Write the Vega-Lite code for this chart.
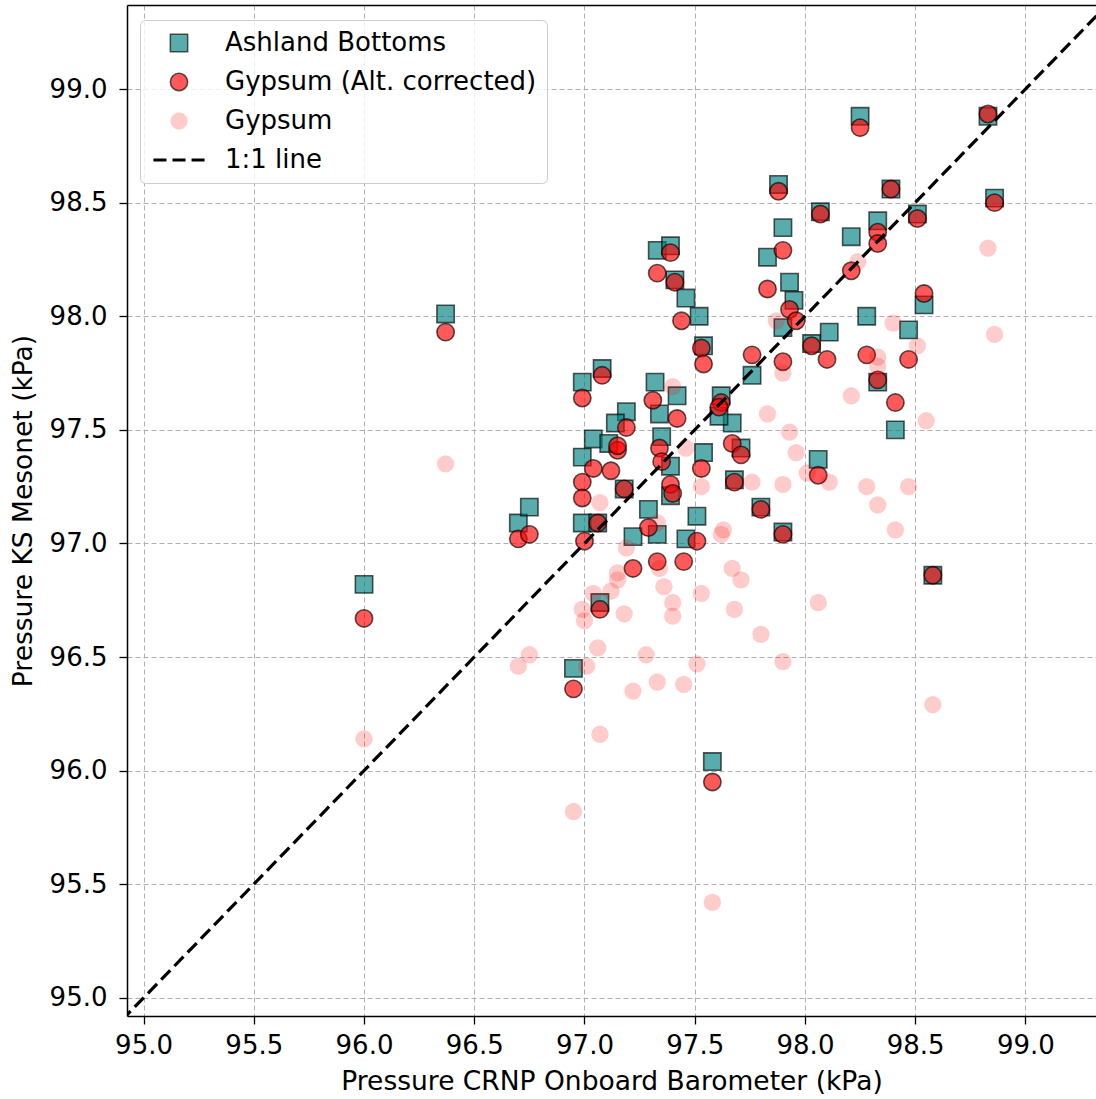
{
  "$schema": "https://vega.github.io/schema/vega-lite/v6.json",
  "width": 969,
  "height": 1011,
  "autosize": {"type": "none"},
  "padding": {"left": 127, "top": 5, "right": 0, "bottom": 83},
  "background": "white",
  "config": {
    "font": "DejaVu Sans",
    "view": {"stroke": null},
    "axis": {
      "labelFont": "DejaVu Sans",
      "labelFontSize": 26,
      "labelColor": "#000000",
      "titleFont": "DejaVu Sans",
      "titleFontSize": 26.5,
      "titleFontWeight": "normal",
      "titleColor": "#000000",
      "tickColor": "#000000",
      "tickWidth": 1.3,
      "tickSize": 8,
      "domainColor": "#000000",
      "domainWidth": 1.5,
      "gridColor": "#b0b0b0",
      "gridDash": [5, 3],
      "gridWidth": 1
    }
  },
  "datasets": {
    "obs": [
      {"series": "Ashland Bottoms", "crnp": 96.00, "mesonet": 96.82},
      {"series": "Ashland Bottoms", "crnp": 96.37, "mesonet": 98.01},
      {"series": "Ashland Bottoms", "crnp": 96.70, "mesonet": 97.09},
      {"series": "Ashland Bottoms", "crnp": 96.75, "mesonet": 97.16},
      {"series": "Ashland Bottoms", "crnp": 96.95, "mesonet": 96.45},
      {"series": "Ashland Bottoms", "crnp": 96.99, "mesonet": 97.71},
      {"series": "Ashland Bottoms", "crnp": 96.99, "mesonet": 97.38},
      {"series": "Ashland Bottoms", "crnp": 96.99, "mesonet": 97.09},
      {"series": "Ashland Bottoms", "crnp": 97.07, "mesonet": 96.74},
      {"series": "Ashland Bottoms", "crnp": 97.06, "mesonet": 97.09},
      {"series": "Ashland Bottoms", "crnp": 97.04, "mesonet": 97.46},
      {"series": "Ashland Bottoms", "crnp": 97.08, "mesonet": 97.77},
      {"series": "Ashland Bottoms", "crnp": 97.19, "mesonet": 97.58},
      {"series": "Ashland Bottoms", "crnp": 97.14, "mesonet": 97.53},
      {"series": "Ashland Bottoms", "crnp": 97.11, "mesonet": 97.44},
      {"series": "Ashland Bottoms", "crnp": 97.18, "mesonet": 97.24},
      {"series": "Ashland Bottoms", "crnp": 97.29, "mesonet": 97.15},
      {"series": "Ashland Bottoms", "crnp": 97.22, "mesonet": 97.03},
      {"series": "Ashland Bottoms", "crnp": 97.33, "mesonet": 97.04},
      {"series": "Ashland Bottoms", "crnp": 97.46, "mesonet": 97.02},
      {"series": "Ashland Bottoms", "crnp": 97.51, "mesonet": 97.12},
      {"series": "Ashland Bottoms", "crnp": 97.39, "mesonet": 97.34},
      {"series": "Ashland Bottoms", "crnp": 97.39, "mesonet": 97.21},
      {"series": "Ashland Bottoms", "crnp": 97.35, "mesonet": 97.47},
      {"series": "Ashland Bottoms", "crnp": 97.32, "mesonet": 97.71},
      {"series": "Ashland Bottoms", "crnp": 97.34, "mesonet": 97.57},
      {"series": "Ashland Bottoms", "crnp": 97.42, "mesonet": 97.65},
      {"series": "Ashland Bottoms", "crnp": 97.54, "mesonet": 97.40},
      {"series": "Ashland Bottoms", "crnp": 97.68, "mesonet": 97.28},
      {"series": "Ashland Bottoms", "crnp": 97.80, "mesonet": 97.16},
      {"series": "Ashland Bottoms", "crnp": 97.90, "mesonet": 97.05},
      {"series": "Ashland Bottoms", "crnp": 97.67, "mesonet": 97.53},
      {"series": "Ashland Bottoms", "crnp": 97.71, "mesonet": 97.42},
      {"series": "Ashland Bottoms", "crnp": 97.62, "mesonet": 97.65},
      {"series": "Ashland Bottoms", "crnp": 97.61, "mesonet": 97.56},
      {"series": "Ashland Bottoms", "crnp": 97.58, "mesonet": 96.04},
      {"series": "Ashland Bottoms", "crnp": 97.33, "mesonet": 98.29},
      {"series": "Ashland Bottoms", "crnp": 97.39, "mesonet": 98.31},
      {"series": "Ashland Bottoms", "crnp": 97.41, "mesonet": 98.16},
      {"series": "Ashland Bottoms", "crnp": 97.46, "mesonet": 98.08},
      {"series": "Ashland Bottoms", "crnp": 97.52, "mesonet": 98.00},
      {"series": "Ashland Bottoms", "crnp": 97.54, "mesonet": 97.87},
      {"series": "Ashland Bottoms", "crnp": 97.76, "mesonet": 97.74},
      {"series": "Ashland Bottoms", "crnp": 97.90, "mesonet": 98.39},
      {"series": "Ashland Bottoms", "crnp": 97.83, "mesonet": 98.26},
      {"series": "Ashland Bottoms", "crnp": 97.93, "mesonet": 98.15},
      {"series": "Ashland Bottoms", "crnp": 97.95, "mesonet": 98.07},
      {"series": "Ashland Bottoms", "crnp": 97.90, "mesonet": 97.95},
      {"series": "Ashland Bottoms", "crnp": 98.25, "mesonet": 98.88},
      {"series": "Ashland Bottoms", "crnp": 97.88, "mesonet": 98.58},
      {"series": "Ashland Bottoms", "crnp": 98.39, "mesonet": 98.56},
      {"series": "Ashland Bottoms", "crnp": 98.83, "mesonet": 98.88},
      {"series": "Ashland Bottoms", "crnp": 98.86, "mesonet": 98.52},
      {"series": "Ashland Bottoms", "crnp": 98.07, "mesonet": 98.46},
      {"series": "Ashland Bottoms", "crnp": 98.51, "mesonet": 98.45},
      {"series": "Ashland Bottoms", "crnp": 98.33, "mesonet": 98.42},
      {"series": "Ashland Bottoms", "crnp": 98.21, "mesonet": 98.35},
      {"series": "Ashland Bottoms", "crnp": 98.28, "mesonet": 98.00},
      {"series": "Ashland Bottoms", "crnp": 98.54, "mesonet": 98.05},
      {"series": "Ashland Bottoms", "crnp": 98.11, "mesonet": 97.93},
      {"series": "Ashland Bottoms", "crnp": 98.47, "mesonet": 97.94},
      {"series": "Ashland Bottoms", "crnp": 98.03, "mesonet": 97.88},
      {"series": "Ashland Bottoms", "crnp": 98.33, "mesonet": 97.71},
      {"series": "Ashland Bottoms", "crnp": 98.41, "mesonet": 97.50},
      {"series": "Ashland Bottoms", "crnp": 98.06, "mesonet": 97.37},
      {"series": "Ashland Bottoms", "crnp": 98.58, "mesonet": 96.86},

      {"series": "Gypsum (Alt. corrected)", "crnp": 96.00, "mesonet": 96.67},
      {"series": "Gypsum (Alt. corrected)", "crnp": 96.37, "mesonet": 97.93},
      {"series": "Gypsum (Alt. corrected)", "crnp": 96.70, "mesonet": 97.02},
      {"series": "Gypsum (Alt. corrected)", "crnp": 96.75, "mesonet": 97.04},
      {"series": "Gypsum (Alt. corrected)", "crnp": 96.95, "mesonet": 96.36},
      {"series": "Gypsum (Alt. corrected)", "crnp": 96.99, "mesonet": 97.64},
      {"series": "Gypsum (Alt. corrected)", "crnp": 96.99, "mesonet": 97.27},
      {"series": "Gypsum (Alt. corrected)", "crnp": 96.99, "mesonet": 97.20},
      {"series": "Gypsum (Alt. corrected)", "crnp": 97.00, "mesonet": 97.01},
      {"series": "Gypsum (Alt. corrected)", "crnp": 97.07, "mesonet": 96.71},
      {"series": "Gypsum (Alt. corrected)", "crnp": 97.06, "mesonet": 97.09},
      {"series": "Gypsum (Alt. corrected)", "crnp": 97.04, "mesonet": 97.33},
      {"series": "Gypsum (Alt. corrected)", "crnp": 97.08, "mesonet": 97.74},
      {"series": "Gypsum (Alt. corrected)", "crnp": 97.19, "mesonet": 97.51},
      {"series": "Gypsum (Alt. corrected)", "crnp": 97.15, "mesonet": 97.41},
      {"series": "Gypsum (Alt. corrected)", "crnp": 97.15, "mesonet": 97.43},
      {"series": "Gypsum (Alt. corrected)", "crnp": 97.12, "mesonet": 97.32},
      {"series": "Gypsum (Alt. corrected)", "crnp": 97.18, "mesonet": 97.24},
      {"series": "Gypsum (Alt. corrected)", "crnp": 97.29, "mesonet": 97.07},
      {"series": "Gypsum (Alt. corrected)", "crnp": 97.22, "mesonet": 96.89},
      {"series": "Gypsum (Alt. corrected)", "crnp": 97.33, "mesonet": 96.92},
      {"series": "Gypsum (Alt. corrected)", "crnp": 97.45, "mesonet": 96.92},
      {"series": "Gypsum (Alt. corrected)", "crnp": 97.51, "mesonet": 97.01},
      {"series": "Gypsum (Alt. corrected)", "crnp": 97.39, "mesonet": 97.26},
      {"series": "Gypsum (Alt. corrected)", "crnp": 97.40, "mesonet": 97.22},
      {"series": "Gypsum (Alt. corrected)", "crnp": 97.34, "mesonet": 97.42},
      {"series": "Gypsum (Alt. corrected)", "crnp": 97.35, "mesonet": 97.36},
      {"series": "Gypsum (Alt. corrected)", "crnp": 97.31, "mesonet": 97.63},
      {"series": "Gypsum (Alt. corrected)", "crnp": 97.42, "mesonet": 97.55},
      {"series": "Gypsum (Alt. corrected)", "crnp": 97.53, "mesonet": 97.33},
      {"series": "Gypsum (Alt. corrected)", "crnp": 97.68, "mesonet": 97.27},
      {"series": "Gypsum (Alt. corrected)", "crnp": 97.80, "mesonet": 97.15},
      {"series": "Gypsum (Alt. corrected)", "crnp": 97.90, "mesonet": 97.04},
      {"series": "Gypsum (Alt. corrected)", "crnp": 97.67, "mesonet": 97.44},
      {"series": "Gypsum (Alt. corrected)", "crnp": 97.71, "mesonet": 97.39},
      {"series": "Gypsum (Alt. corrected)", "crnp": 97.62, "mesonet": 97.62},
      {"series": "Gypsum (Alt. corrected)", "crnp": 97.61, "mesonet": 97.60},
      {"series": "Gypsum (Alt. corrected)", "crnp": 97.58, "mesonet": 95.95},
      {"series": "Gypsum (Alt. corrected)", "crnp": 97.33, "mesonet": 98.19},
      {"series": "Gypsum (Alt. corrected)", "crnp": 97.39, "mesonet": 98.28},
      {"series": "Gypsum (Alt. corrected)", "crnp": 97.41, "mesonet": 98.15},
      {"series": "Gypsum (Alt. corrected)", "crnp": 97.44, "mesonet": 97.98},
      {"series": "Gypsum (Alt. corrected)", "crnp": 97.53, "mesonet": 97.86},
      {"series": "Gypsum (Alt. corrected)", "crnp": 97.54, "mesonet": 97.79},
      {"series": "Gypsum (Alt. corrected)", "crnp": 97.76, "mesonet": 97.83},
      {"series": "Gypsum (Alt. corrected)", "crnp": 97.90, "mesonet": 97.80},
      {"series": "Gypsum (Alt. corrected)", "crnp": 97.90, "mesonet": 98.29},
      {"series": "Gypsum (Alt. corrected)", "crnp": 97.83, "mesonet": 98.12},
      {"series": "Gypsum (Alt. corrected)", "crnp": 97.93, "mesonet": 98.03},
      {"series": "Gypsum (Alt. corrected)", "crnp": 97.96, "mesonet": 97.98},
      {"series": "Gypsum (Alt. corrected)", "crnp": 98.25, "mesonet": 98.83},
      {"series": "Gypsum (Alt. corrected)", "crnp": 97.88, "mesonet": 98.55},
      {"series": "Gypsum (Alt. corrected)", "crnp": 98.39, "mesonet": 98.56},
      {"series": "Gypsum (Alt. corrected)", "crnp": 98.83, "mesonet": 98.89},
      {"series": "Gypsum (Alt. corrected)", "crnp": 98.86, "mesonet": 98.50},
      {"series": "Gypsum (Alt. corrected)", "crnp": 98.07, "mesonet": 98.45},
      {"series": "Gypsum (Alt. corrected)", "crnp": 98.51, "mesonet": 98.43},
      {"series": "Gypsum (Alt. corrected)", "crnp": 98.33, "mesonet": 98.37},
      {"series": "Gypsum (Alt. corrected)", "crnp": 98.33, "mesonet": 98.32},
      {"series": "Gypsum (Alt. corrected)", "crnp": 98.21, "mesonet": 98.20},
      {"series": "Gypsum (Alt. corrected)", "crnp": 98.54, "mesonet": 98.10},
      {"series": "Gypsum (Alt. corrected)", "crnp": 98.03, "mesonet": 97.87},
      {"series": "Gypsum (Alt. corrected)", "crnp": 98.10, "mesonet": 97.81},
      {"series": "Gypsum (Alt. corrected)", "crnp": 98.28, "mesonet": 97.83},
      {"series": "Gypsum (Alt. corrected)", "crnp": 98.47, "mesonet": 97.81},
      {"series": "Gypsum (Alt. corrected)", "crnp": 98.33, "mesonet": 97.72},
      {"series": "Gypsum (Alt. corrected)", "crnp": 98.41, "mesonet": 97.62},
      {"series": "Gypsum (Alt. corrected)", "crnp": 98.06, "mesonet": 97.30},
      {"series": "Gypsum (Alt. corrected)", "crnp": 98.58, "mesonet": 96.86},

      {"series": "Gypsum", "crnp": 96.00, "mesonet": 96.14},
      {"series": "Gypsum", "crnp": 96.37, "mesonet": 97.35},
      {"series": "Gypsum", "crnp": 96.70, "mesonet": 96.46},
      {"series": "Gypsum", "crnp": 96.75, "mesonet": 96.51},
      {"series": "Gypsum", "crnp": 96.95, "mesonet": 95.82},
      {"series": "Gypsum", "crnp": 97.58, "mesonet": 95.42},
      {"series": "Gypsum", "crnp": 98.83, "mesonet": 98.30},
      {"series": "Gypsum", "crnp": 98.86, "mesonet": 97.92},
      {"series": "Gypsum", "crnp": 98.24, "mesonet": 98.24},
      {"series": "Gypsum", "crnp": 98.40, "mesonet": 97.97},
      {"series": "Gypsum", "crnp": 98.51, "mesonet": 97.87},
      {"series": "Gypsum", "crnp": 98.33, "mesonet": 97.82},
      {"series": "Gypsum", "crnp": 98.33, "mesonet": 97.78},
      {"series": "Gypsum", "crnp": 98.21, "mesonet": 97.65},
      {"series": "Gypsum", "crnp": 98.55, "mesonet": 97.54},
      {"series": "Gypsum", "crnp": 97.83, "mesonet": 97.57},
      {"series": "Gypsum", "crnp": 97.93, "mesonet": 97.49},
      {"series": "Gypsum", "crnp": 97.96, "mesonet": 97.40},
      {"series": "Gypsum", "crnp": 97.90, "mesonet": 97.75},
      {"series": "Gypsum", "crnp": 97.87, "mesonet": 97.98},
      {"series": "Gypsum", "crnp": 98.11, "mesonet": 97.27},
      {"series": "Gypsum", "crnp": 97.90, "mesonet": 97.26},
      {"series": "Gypsum", "crnp": 97.76, "mesonet": 97.27},
      {"series": "Gypsum", "crnp": 98.28, "mesonet": 97.25},
      {"series": "Gypsum", "crnp": 98.47, "mesonet": 97.25},
      {"series": "Gypsum", "crnp": 98.33, "mesonet": 97.17},
      {"series": "Gypsum", "crnp": 98.41, "mesonet": 97.06},
      {"series": "Gypsum", "crnp": 98.01, "mesonet": 97.31},
      {"series": "Gypsum", "crnp": 98.58, "mesonet": 96.29},
      {"series": "Gypsum", "crnp": 98.06, "mesonet": 96.74},
      {"series": "Gypsum", "crnp": 97.80, "mesonet": 96.60},
      {"series": "Gypsum", "crnp": 97.90, "mesonet": 96.48},
      {"series": "Gypsum", "crnp": 97.63, "mesonet": 97.06},
      {"series": "Gypsum", "crnp": 97.62, "mesonet": 97.04},
      {"series": "Gypsum", "crnp": 97.19, "mesonet": 96.98},
      {"series": "Gypsum", "crnp": 97.15, "mesonet": 96.87},
      {"series": "Gypsum", "crnp": 97.15, "mesonet": 96.84},
      {"series": "Gypsum", "crnp": 97.12, "mesonet": 96.79},
      {"series": "Gypsum", "crnp": 97.04, "mesonet": 96.78},
      {"series": "Gypsum", "crnp": 97.36, "mesonet": 96.81},
      {"series": "Gypsum", "crnp": 97.34, "mesonet": 96.89},
      {"series": "Gypsum", "crnp": 97.53, "mesonet": 96.78},
      {"series": "Gypsum", "crnp": 97.67, "mesonet": 96.89},
      {"series": "Gypsum", "crnp": 97.71, "mesonet": 96.84},
      {"series": "Gypsum", "crnp": 96.99, "mesonet": 96.71},
      {"series": "Gypsum", "crnp": 97.00, "mesonet": 96.66},
      {"series": "Gypsum", "crnp": 97.18, "mesonet": 96.69},
      {"series": "Gypsum", "crnp": 97.40, "mesonet": 96.74},
      {"series": "Gypsum", "crnp": 97.40, "mesonet": 96.68},
      {"series": "Gypsum", "crnp": 97.68, "mesonet": 96.71},
      {"series": "Gypsum", "crnp": 97.06, "mesonet": 96.54},
      {"series": "Gypsum", "crnp": 97.28, "mesonet": 96.51},
      {"series": "Gypsum", "crnp": 97.01, "mesonet": 96.46},
      {"series": "Gypsum", "crnp": 97.51, "mesonet": 96.47},
      {"series": "Gypsum", "crnp": 97.33, "mesonet": 96.39},
      {"series": "Gypsum", "crnp": 97.45, "mesonet": 96.38},
      {"series": "Gypsum", "crnp": 97.22, "mesonet": 96.35},
      {"series": "Gypsum", "crnp": 97.07, "mesonet": 96.16},
      {"series": "Gypsum", "crnp": 97.07, "mesonet": 97.18},
      {"series": "Gypsum", "crnp": 97.46, "mesonet": 97.42},
      {"series": "Gypsum", "crnp": 97.40, "mesonet": 97.69},
      {"series": "Gypsum", "crnp": 97.53, "mesonet": 97.25},
      {"series": "Gypsum", "crnp": 97.33, "mesonet": 97.09}
    ],
    "identity": [
      {"kpa": 94.9},
      {"kpa": 99.4}
    ]
  },
  "layer": [
    {
      "data": {"name": "obs"},
      "mark": {"type": "point", "filled": true, "size": 300, "opacity": 1, "strokeWidth": 1.6},
      "encoding": {
        "x": {
          "field": "crnp",
          "type": "quantitative",
          "scale": {"domain": [94.925, 99.32], "nice": false, "zero": false},
          "axis": {
            "title": "Pressure CRNP Onboard Barometer (kPa)",
            "values": [95, 95.5, 96, 96.5, 97, 97.5, 98, 98.5, 99],
            "format": ".1f",
            "labelPadding": 8,
            "titlePadding": 10,
            "grid": true
          }
        },
        "y": {
          "field": "mesonet",
          "type": "quantitative",
          "scale": {"domain": [94.92, 99.37], "nice": false, "zero": false},
          "axis": {
            "title": "Pressure KS Mesonet (kPa)",
            "values": [95, 95.5, 96, 96.5, 97, 97.5, 98, 98.5, 99],
            "format": ".1f",
            "labelPadding": 12,
            "titlePadding": 12,
            "grid": true
          }
        },
        "shape": {
          "field": "series",
          "type": "nominal",
          "scale": {
            "type": "ordinal",
            "domain": ["Ashland Bottoms", "Gypsum (Alt. corrected)", "Gypsum", "1:1 line"],
            "range": [
              "square",
              "circle",
              "circle",
              "M-2.95,-0.17H-1.45V0.17H-2.95ZM-0.75,-0.17H0.75V0.17H-0.75ZM1.45,-0.17H2.95V0.17H1.45Z"
            ]
          },
          "legend": {
            "title": null,
            "orient": "none",
            "legendX": 13,
            "legendY": 15,
            "padding": 10,
            "symbolSize": 300,
            "symbolOpacity": 1,
            "symbolOffset": 16,
            "labelOffset": 33,
            "labelLimit": 0,
            "labelFont": "DejaVu Sans",
            "labelFontSize": 26,
            "labelColor": "#000000",
            "rowPadding": 13,
            "fillColor": "rgba(255,255,255,0.8)",
            "strokeColor": "#cccccc",
            "cornerRadius": 5
          }
        },
        "fill": {
          "field": "series",
          "type": "nominal",
          "scale": {
            "type": "ordinal",
            "domain": ["Ashland Bottoms", "Gypsum (Alt. corrected)", "Gypsum", "1:1 line"],
            "range": ["rgba(0,128,128,0.65)", "rgba(255,0,0,0.65)", "rgba(255,0,0,0.2)", "#000000"]
          },
          "legend": {"title": null}
        },
        "stroke": {
          "field": "series",
          "type": "nominal",
          "scale": {
            "type": "ordinal",
            "domain": ["Ashland Bottoms", "Gypsum (Alt. corrected)", "Gypsum", "1:1 line"],
            "range": ["rgba(0,0,0,0.65)", "rgba(0,0,0,0.65)", "rgba(0,0,0,0)", "rgba(0,0,0,0)"]
          },
          "legend": {"title": null}
        }
      }
    },
    {
      "data": {"name": "identity"},
      "mark": {"type": "line", "color": "#000000", "strokeWidth": 3.2, "strokeDash": [13, 6], "clip": true},
      "encoding": {
        "x": {
          "field": "kpa",
          "type": "quantitative",
          "axis": {"orient": "top", "labels": false, "ticks": false, "grid": false, "title": null, "domain": true}
        },
        "y": {"field": "kpa", "type": "quantitative"}
      }
    }
  ],
  "resolve": {"axis": {"x": "independent"}}
}
